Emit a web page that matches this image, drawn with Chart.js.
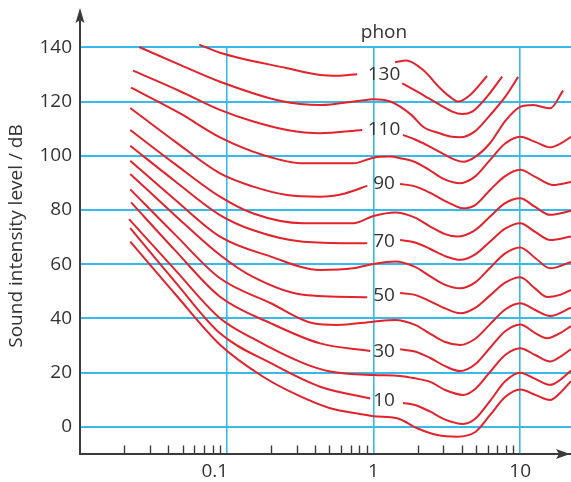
<!DOCTYPE html>
<html><head><meta charset="utf-8">
<script src="https://cdn.jsdelivr.net/npm/chart.js@4/dist/chart.umd.min.js"></script>
<style>html,body{margin:0;padding:0;background:#fff;overflow:hidden}#wrap{width:571px;height:482px}</style>
</head><body><div id="wrap"><canvas id="c" width="571" height="482"></canvas></div>
<script>
// ---- data (frequency in kHz, level in dB; null = gap left for the label) ----
const freq130 = [0.065, 0.09, 0.258, 0.433, 0.566, 0.774, 1.2, 1.57, 2.18, 2.85, 3.44, 4.02, 4.71, 5.95, 7.54];
const level130 = [141.0, 138.0, 132.3, 129.8, 129.5, 130.1, null, 126.7, 122.4, 118.7, 116.3, 115.4, 116.3, 121.8, 129.2];
const freqTop = [1.405, 1.67, 2.18, 2.85, 3.33, 3.78, 4.56, 5.95];
const levelTop = [134.5, 135.1, 131.6, 124.9, 121.7, 120.0, 122.4, 129.4];
const freq120 = [0.0253, 0.0481, 0.09, 0.231, 0.433, 0.81, 1.0, 1.30, 1.52, 1.836, 2.18, 2.85, 3.33, 3.9, 4.94, 6.24, 7.9, 9.69];
const level120 = [140.1, 133.5, 127.3, 120.3, 118.7, 120.3, 120.8, 120.0, 118.1, 114.8, 110.7, 108.2, 107.1, 106.8, 109.1, 115.0, 121.7, 129.1];
const freq110 = [0.023, 0.0481, 0.09, 0.15, 0.258, 0.433, 0.838, 1.2, 1.59, 1.92, 2.44, 3.08, 3.61, 4.09, 4.94, 6.24, 7.9, 10, 12.26, 16, 19.6];
const level110 = [131.4, 123.8, 116.9, 112.7, 109.5, 108.3, 109.5, null, 107.7, 106.0, 103.3, 100.3, 98.5, 97.8, 99.6, 104.7, 112.8, 118.0, 118.7, 117.5, 124.0];
const freq100 = [0.0223, 0.0481, 0.09, 0.177, 0.332, 0.727, 1.0, 1.30, 1.52, 1.92, 2.44, 3.08, 3.9, 4.94, 6.24, 7.9, 10, 12.66, 16, 18.7, 22.2];
const level100 = [125.1, 115.6, 106.8, 100.3, 97.2, 97.2, 99.3, 99.7, 99.1, 97.7, 94.5, 91.2, 89.9, 92.4, 98.5, 104.5, 107.0, 105.1, 103.1, 104.4, 107.0];
const freq90 = [0.022, 0.0445, 0.09, 0.15, 0.258, 0.433, 0.64, 0.906, 1.2, 1.52, 1.92, 2.44, 3.08, 3.61, 4.09, 4.94, 6.24, 7.9, 10, 12.66, 16.8, 22.2];
const level90 = [117.6, 105.2, 93.5, 88.7, 85.5, 84.9, 86.1, 88.9, null, 89.6, 88.7, 86.3, 83.3, 81.5, 80.6, 81.8, 87.4, 92.5, 94.8, 92.2, 89.2, 90.3];
const freq80 = [0.022, 0.0445, 0.09, 0.15, 0.332, 0.727, 1.0, 1.405, 1.92, 2.44, 3.08, 3.72, 4.94, 6.24, 7.9, 10, 12.66, 16, 22.2];
const level80 = [109.5, 96.9, 84.9, 78.8, 75.1, 75.1, 77.8, 79.1, 77.2, 73.9, 71.1, 70.2, 72.6, 77.6, 82.5, 84.3, 81.1, 78.2, 79.7];
const freq70 = [0.022, 0.0445, 0.09, 0.15, 0.332, 0.906, 1.2, 1.52, 1.92, 2.44, 3.08, 3.9, 4.94, 6.24, 7.9, 10, 12.66, 16, 22.2];
const level70 = [103.7, 90.6, 78.1, 72.6, 68.3, 67.7, null, 68.9, 68.0, 65.6, 63.0, 61.6, 63.6, 68.4, 73.1, 75.1, 71.9, 68.9, 70.2];
const freq60 = [0.022, 0.0445, 0.09, 0.2, 0.433, 0.727, 1.0, 1.405, 1.92, 2.44, 3.08, 3.9, 4.94, 6.24, 7.9, 10, 12.66, 16, 22.2];
const level60 = [98.2, 83.8, 70.2, 62.8, 57.9, 58.5, 60.1, 61.0, 59.0, 55.5, 52.4, 51.1, 53.3, 58.7, 64.0, 66.2, 62.3, 58.5, 60.8];
const freq50 = [0.022, 0.0445, 0.09, 0.15, 0.332, 0.906, 1.2, 1.52, 1.92, 2.44, 3.08, 3.9, 4.94, 6.24, 7.9, 10, 12.66, 15.3, 18.7, 22.2];
const level50 = [93.3, 78.0, 63.4, 55.4, 48.7, 47.8, null, 49.4, 48.7, 46.3, 43.7, 41.9, 43.9, 48.5, 53.2, 55.2, 51.0, 47.9, 48.7, 50.5];
const freq40 = [0.022, 0.0445, 0.09, 0.2, 0.388, 0.566, 1.0, 1.405, 1.92, 2.44, 3.08, 3.9, 4.94, 6.24, 7.9, 10, 12.66, 16, 22.2];
const level40 = [87.6, 70.9, 54.8, 45.6, 38.2, 37.6, 38.8, 39.4, 37.6, 34.3, 31.3, 30.2, 32.5, 37.9, 43.3, 45.6, 43.1, 40.9, 44.0];
const freq30 = [0.0223, 0.0445, 0.09, 0.2, 0.433, 0.95, 1.2, 1.52, 1.92, 2.44, 3.08, 3.9, 4.94, 6.24, 7.9, 10, 12.66, 15.3, 18.7, 22.2];
const level30 = [82.8, 65.1, 48.0, 38.2, 30.8, 28.0, null, 28.6, 27.8, 25.4, 22.4, 20.6, 23.1, 29.2, 35.3, 37.8, 34.6, 32.7, 34.6, 37.2];
const freq20 = [0.0216, 0.0445, 0.09, 0.15, 0.332, 0.507, 1.0, 1.52, 1.865, 2.44, 3.08, 4.09, 4.94, 6.24, 7.9, 10, 12.66, 16, 18.7, 22.2];
const level20 = [76.6, 57.9, 40.1, 32.7, 23.5, 20.4, 19.1, 18.8, 18.0, 16.6, 13.6, 11.8, 14.0, 20.3, 26.5, 29.0, 26.5, 24.1, 25.8, 28.7];
const freq10 = [0.022, 0.0445, 0.09, 0.2, 0.433, 0.95, 1.2, 1.59, 1.92, 2.44, 3.08, 4.09, 4.94, 6.24, 7.9, 10, 12.66, 16, 18.7, 22.2];
const level10 = [73.3, 53.5, 34.5, 23.5, 14.8, 10.5, null, 8.8, 8.1, 5.6, 2.7, 1.1, 3.0, 9.6, 16.8, 20.0, 17.7, 15.5, 17.3, 20.8];
const freq0 = [0.022, 0.0445, 0.09, 0.177, 0.302, 0.507, 0.851, 1.0, 1.45, 1.986, 2.72, 3.72, 4.94, 6.24, 7.9, 10, 12.66, 16, 18.7, 22.2];
const level0 = [68.3, 49.0, 30.3, 18.5, 11.8, 6.9, 4.6, 3.9, 3.2, -0.5, -3.0, -3.6, -1.9, 4.4, 11.0, 13.8, 11.8, 9.9, 12.5, 16.9];

const xGridValues = [0.1, 1, 10];
const xTickLabels = ['0.1', '1', '10'];
const minorTickValues = [0.02,0.03,0.04,0.05,0.06,0.07,0.08,0.09,0.2,0.3,0.4,0.5,0.6,0.7,0.8,0.9,2,3,4,5,6,7,8,9];
const yTickValues = [0, 20, 40, 60, 80, 100, 120, 140];
const contourLabelText = ['130', '110', '90', '70', '50', '30', '10'];
const contourLabelLevel = [129.8, 109.5, 89.6, 68.2, 48.3, 27.6, 9.6];
const contourLabelFreq = 1.18;
const yTitle = 'Sound intensity level / dB';
const unitLabel = 'phon';

// ---- styles ----
const FONT = '"Open Sans", "Noto Sans", sans-serif';
const RED = '#e3222b';
const CYAN = '#38bae8';
const AXIS = '#3a3a3a';
const TEXT = '#333333';

const series = [
  [freq130, level130], [freqTop, levelTop], [freq120, level120], [freq110, level110],
  [freq100, level100], [freq90, level90], [freq80, level80], [freq70, level70],
  [freq60, level60], [freq50, level50], [freq40, level40], [freq30, level30],
  [freq20, level20], [freq10, level10], [freq0, level0]
];

const datasets = series.map(([f, l]) => ({
  data: f.map((x, i) => ({ x: x, y: l[i] })),
  borderColor: RED,
  borderWidth: 2,
  pointRadius: 0,
  fill: false,
  cubicInterpolationMode: 'monotone',
  spanGaps: false,
  clip: false
}));

const decor = {
  id: 'decor',
  afterDraw(chart) {
    const ctx = chart.ctx;
    const xs = chart.scales.x, ys = chart.scales.y;
    const area = chart.chartArea;
    const axX = area.left, axY = area.bottom;
    ctx.save();
    ctx.strokeStyle = AXIS; ctx.fillStyle = AXIS; ctx.lineWidth = 2;
    ctx.beginPath(); ctx.moveTo(axX, area.top + 1); ctx.lineTo(axX, 18); ctx.stroke();
    ctx.beginPath();
    ctx.moveTo(axX, 8); ctx.lineTo(axX - 4.5, 23); ctx.lineTo(axX, 20); ctx.lineTo(axX + 4.5, 23);
    ctx.closePath(); ctx.fill();
    const tipX = 570;
    ctx.beginPath();
    ctx.moveTo(tipX, axY); ctx.lineTo(tipX - 14, axY - 5); ctx.lineTo(tipX - 11, axY); ctx.lineTo(tipX - 14, axY + 5);
    ctx.closePath(); ctx.fill();
    ctx.lineWidth = 1.4;
    minorTickValues.forEach(v => {
      const px = Math.round(xs.getPixelForValue(v)) + 0.5;
      ctx.beginPath(); ctx.moveTo(px, axY); ctx.lineTo(px, axY - 8.5); ctx.stroke();
    });
    ctx.fillStyle = TEXT;
    ctx.font = '19px ' + FONT;
    ctx.textBaseline = 'alphabetic';
    xGridValues.forEach((v, i) => {
      const px = xs.getPixelForValue(v);
      ctx.textAlign = i === 0 ? 'right' : 'center';
      ctx.fillText(xTickLabels[i], i === 0 ? px + 1.5 : px, 477);
    });
    ctx.textAlign = 'center';
    ctx.textBaseline = 'middle';
    contourLabelText.forEach((t, i) => {
      ctx.fillText(t, xs.getPixelForValue(contourLabelFreq), ys.getPixelForValue(contourLabelLevel[i]));
    });
    ctx.textBaseline = 'alphabetic';
    ctx.fillText(unitLabel, xs.getPixelForValue(contourLabelFreq), 38);
    ctx.translate(17, 236);
    ctx.rotate(-Math.PI / 2);
    ctx.textAlign = 'center';
    ctx.textBaseline = 'middle';
    ctx.fillText(yTitle, 0, 0);
    ctx.restore();
  }
};

new Chart(document.getElementById('c'), {
  type: 'line',
  data: { datasets: datasets },
  options: {
    responsive: false,
    devicePixelRatio: 1,
    animation: false,
    events: [],
    layout: { padding: { top: 47.3, right: 0, bottom: 0, left: 0 } },
    plugins: { legend: { display: false }, tooltip: { enabled: false } },
    scales: {
      x: {
        type: 'logarithmic', min: 0.01, max: 22.2,
        afterBuildTicks: s => { s.ticks = xGridValues.map(v => ({ value: v })); },
        afterFit: s => { s.height = 28; },
        ticks: { display: false },
        grid: { color: CYAN, lineWidth: 1.6, drawTicks: false },
        border: { display: true, color: AXIS, width: 2 }
      },
      y: {
        type: 'linear', min: -10, max: 140,
        afterBuildTicks: s => { s.ticks = yTickValues.map(v => ({ value: v })); },
        afterFit: s => { s.width = 80; },
        ticks: { padding: 8, color: TEXT, font: { family: FONT, size: 19 }, autoSkip: false, callback: v => String(v) },
        grid: { color: CYAN, lineWidth: 2, drawTicks: false },
        border: { display: true, color: AXIS, width: 2 }
      }
    }
  },
  plugins: [decor]
});
</script>
</body></html>
